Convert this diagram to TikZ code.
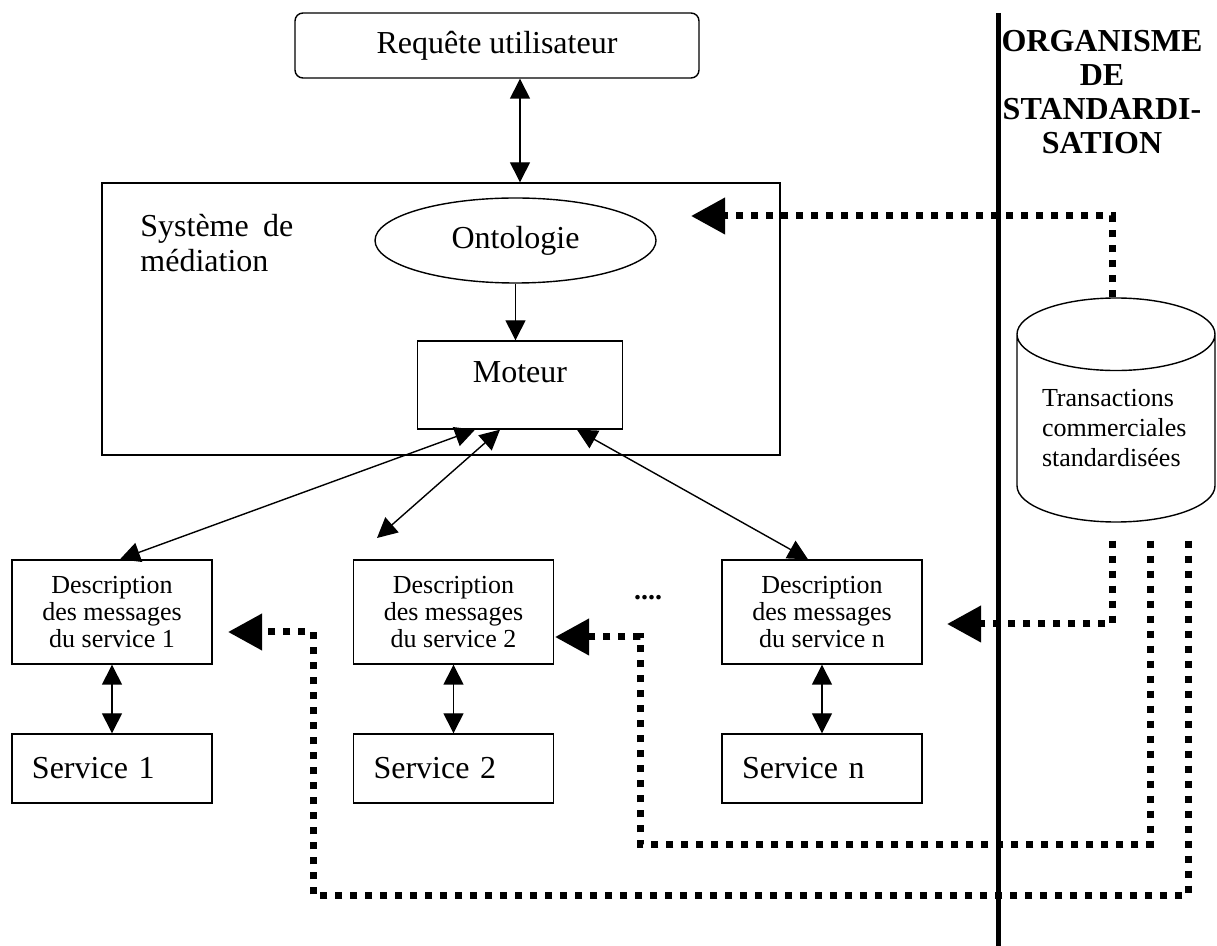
\documentclass[tikz,border=0pt]{standalone}
\usepackage{fontspec}
\setmainfont{Liberation Serif}
\usetikzlibrary{shapes.geometric,arrows.meta,calc}
\newcommand{\bigfont}{\fontsize{16}{18}\selectfont}
\newcommand{\descfont}{\fontsize{13}{13.5}\selectfont}
\newcommand{\cylfont}{\fontsize{13}{15}\selectfont}

\begin{document}
\begin{tikzpicture}[x=0.5pt,y=-0.5pt,
  box/.style={draw,line width=0.7pt,inner sep=0pt},
  desc/.style={box,minimum width=100pt,minimum height=52pt,align=center,font=\descfont},
  serv/.style={box,minimum width=100pt,minimum height=34.5pt,text width=80pt,align=left,font=\bigfont},
  arr/.style={{Triangle[length=10pt,width=10pt]}-{Triangle[length=10pt,width=10pt]},line width=0.7pt},
  dots/.style={line width=3.5pt,dash pattern=on 3.5pt off 4pt,-{Triangle[length=17pt,width=17.5pt]}},
]
\useasboundingbox (0,0) rectangle (1217,946);
\node[box,rounded corners=4pt,minimum width=202pt,minimum height=32.5pt,font=\bigfont] (req) at (497,45.5)
  {Requête utilisateur};
\node[box,minimum width=339pt,minimum height=136pt] (med) at (441,319) {};
\node[anchor=north west,align=left,inner sep=0pt,font=\fontsize{16}{17.5}\selectfont] (medlbl) at (140,214)
  {\makebox[76.5pt][s]{Système de}\\médiation};
\node[box,ellipse,minimum width=140.5pt,minimum height=42.5pt,font=\bigfont] (onto) at (515.5,240.5) {Ontologie};
\node[box,minimum width=102.5pt,minimum height=44pt,align=center,font=\bigfont] (mot) at (520,385)
  {Moteur\\[-5pt]\mbox{}};
\node[desc] (desc1) at (112,612) {Description\\des messages\\du service 1};
\node[desc] (desc2) at (453.5,612) {Description\\des messages\\du service 2};
\node[desc] (descn) at (822,612) {Description\\des messages\\du service n};
\node[serv] (serv1) at (112,768.5) {Service 1};
\node[serv] (serv2) at (453.5,768.5) {Service 2};
\node[serv] (servn) at (822,768.5) {Service n};
\node[font=\fontsize{14}{16}\selectfont\bfseries] (etc) at (648,598) {....};
\node[font=\fontsize{16}{17}\selectfont\bfseries,align=center] (org) at (1102,92)
  {ORGANISME\\DE\\STANDARDI-\\SATION};
\node[box,cylinder,shape border rotate=90,aspect=0.49,minimum width=99pt,minimum height=112pt,
  text width=74pt,align=left,font=\cylfont,anchor=shape center] (cyl) at (1116,410)
  {Transactions\\commerciales\\standardisées};
\draw[line width=2.5pt] (998,13) -- (998,946);
\coordinate (inM) at (691,216);
\coordinate (in1) at (228,632);
\coordinate (in2) at (555,637);
\coordinate (inN) at (947,624);
\coordinate (d2tip) at (377,538);
\draw[arr] (mot.center |- req.south) -- (mot.center |- med.north);
\draw[-{Triangle[length=10pt,width=10pt]},line width=0.7pt] (onto.south) -- (onto.south |- mot.north);
\draw[arr] ([xshift=4pt]desc1.north) -- ([xshift=-22.5pt]mot.south);
\draw[arr] (d2tip) -- ([xshift=-10pt]mot.south);
\draw[arr] ([xshift=-7pt]descn.north) -- ([xshift=28.5pt]mot.south);
\draw[arr] (desc1) -- (serv1);
\draw[arr] (desc2) -- (serv2);
\draw[arr] (descn) -- (servn);
\draw[dots] ([xshift=-2pt]cyl.north) |- (inM);
\draw[dots,shorten <=9pt] ([xshift=-2pt]cyl.south) |- (inN);
\draw[dots,shorten <=9pt] ([xshift=17pt]cyl.south) |- (640,844) |- (in2);
\draw[dots,shorten <=9pt] ([xshift=36pt]cyl.south) |- (313,895) |- (in1);
\end{tikzpicture}
\end{document}
